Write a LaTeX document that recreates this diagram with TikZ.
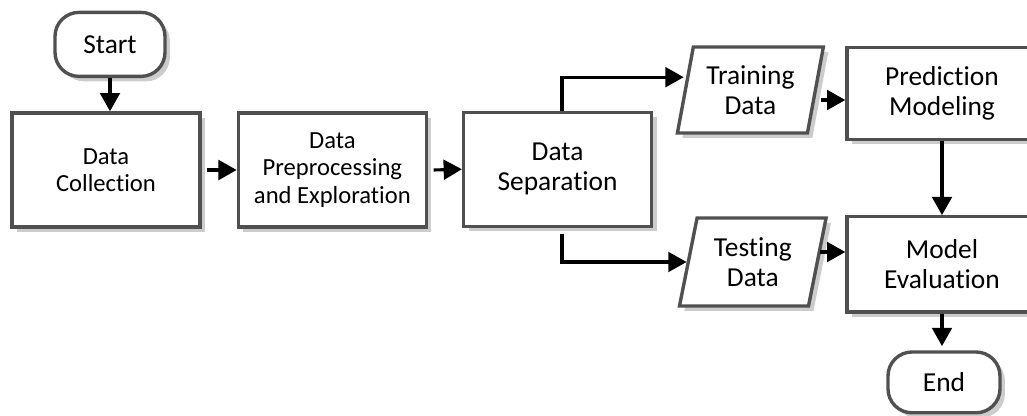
\documentclass[tikz,border=0pt]{standalone}
\usepackage{fontspec}
\setmainfont{Carlito}[Ligatures={NoCommon,NoContextual}]
\usetikzlibrary{arrows.meta,shapes.geometric,shadows}
\definecolor{boxline}{RGB}{80,80,80}

\begin{document}
\begin{tikzpicture}[
    blk/.style={rectangle, draw=boxline, line width=2.4pt, fill=white,
                minimum width=4.7cm, minimum height=2.85cm, align=center,
                inner sep=0pt, font=\fontsize{17.5}{19.5}\selectfont,
                drop shadow={shadow xshift=3.5pt, shadow yshift=-3.5pt,
                             fill=black, opacity=0.2}},
    bigtxt/.style={font=\fontsize{19.5}{21.5}\selectfont},
    iobox/.style={blk, trapezium, trapezium left angle=76,
                  trapezium right angle=104, trapezium stretches=true,
                  minimum width=3.675cm, minimum height=2.15cm, bigtxt},
    term/.style={blk, rounded corners=0.6cm, minimum width=2.75cm,
                 minimum height=1.6cm, bigtxt},
    arr/.style={-{Triangle[length=13pt,width=14pt]}, line width=2.2pt}]

    \useasboundingbox (0,0) rectangle (25.675,-10.4);
    \clip (0,0) rectangle (25.675,-10.4);

    % Main row
    \node[term] (start)   at (2.75,-1.11)   {Start};
    \node[blk]  (collect) at (2.65,-4.25)   {Data\\Collection};
    \node[blk]  (prep)    at (8.31,-4.25)   {Data\\Preprocessing\\and Exploration};
    \node[blk, bigtxt] (sep) at (13.94,-4.23) {Data\\Separation};

    % Split data
    \node[iobox] (train) at (18.76,-2.25) {Training\\Data};
    \node[iobox, minimum height=2.2cm] (test) at (18.82,-6.55) {Testing\\Data};

    % Right column
    \node[blk, bigtxt, minimum width=4.75cm, minimum height=2.3cm]
        (model) at (23.55,-2.33) {Prediction\\Modeling};
    \node[blk, bigtxt, minimum width=4.75cm, minimum height=2.38cm]
        (eval) at (23.55,-6.61) {Model\\Evaluation};
    \node[term, minimum width=2.8cm, minimum height=1.52cm]
        (finish) at (23.6,-9.56) {End};

    % Arrows
    \draw[arr] (start.south) -- (start.south |- collect.north);
    \draw[arr] ([xshift=4pt]collect.east) -- (prep.west);
    \draw[arr] ([xshift=4pt]prep.east) -- (sep.west);
    \draw[arr] ([xshift=0.11cm]sep.north) |- ([yshift=0.32cm]train.west);
    \draw[arr] ([xshift=0.11cm,yshift=-4pt]sep.south) |- (test.west);
    \draw[arr] ([xshift=3pt,yshift=-0.25cm]train.east)
        -- ([yshift=-0.25cm]train.east -| model.west);
    \draw[arr] ([xshift=1pt,yshift=0.25cm]test.east)
        -- ([yshift=0.25cm]test.east -| eval.west);
    \draw[arr] (model) -- (eval);
    \draw[arr, shorten >=3pt] (eval.south) -- (eval.south |- finish.north);

\end{tikzpicture}
\end{document}
